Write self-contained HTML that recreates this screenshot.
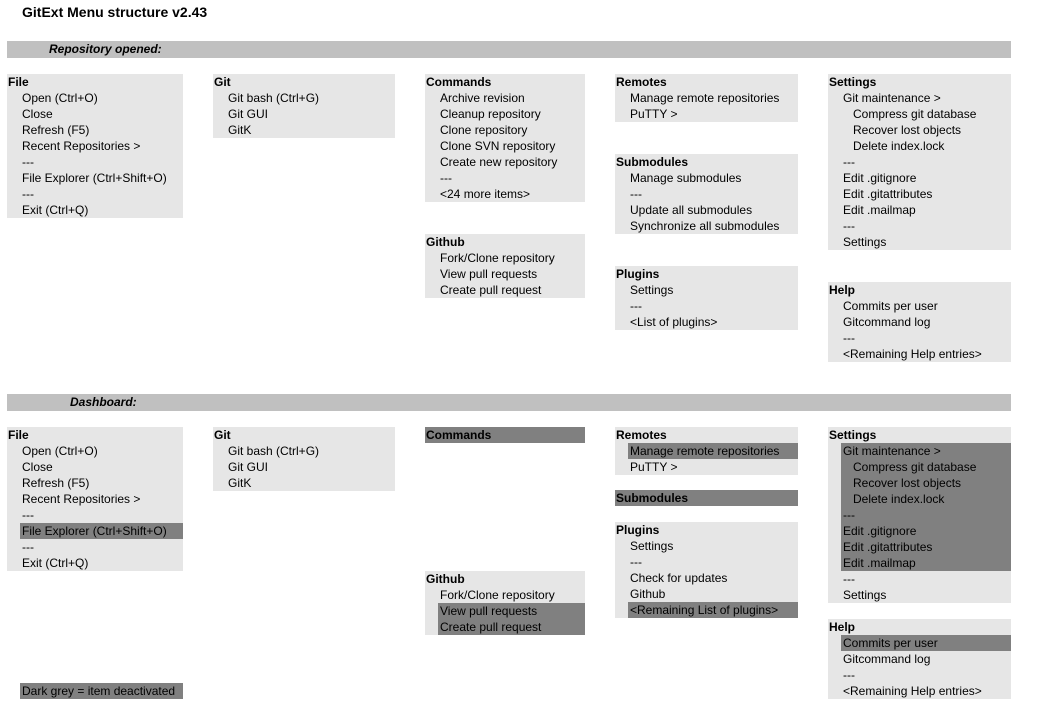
<!DOCTYPE html>
<html><head><meta charset="utf-8"><style>
body{margin:0;width:1043px;height:726px;background:#fff;position:relative;font-family:"Liberation Sans",Arial,sans-serif;font-size:12px;color:#000;overflow:hidden}
.t{position:absolute;left:22px;top:4px;font-weight:bold;font-size:14px}
.bar{position:absolute;left:7px;width:1004px;height:17px;background:#c0c0c0;font-weight:bold;font-style:italic;line-height:17px}
.box{position:absolute;background:#e6e6e6}
.r{height:16px;line-height:16px;white-space:nowrap;position:relative}
.h{font-weight:bold;padding-left:1px}
.i{padding-left:15px}
.s{padding-left:25px}
.d{background:#808080;margin-left:13px;padding-left:2px}
.ds{background:#808080;margin-left:13px;padding-left:12px}
.hd{background:#808080;font-weight:bold;padding-left:1px}
</style></head><body>
<div class="t">GitExt Menu structure v2.43</div>
<div class="bar" style="top:41px"><span style="margin-left:42px">Repository opened:</span></div>

<div class="box" style="left:7px;top:74px;width:176px">
<div class="r h">File</div><div class="r i">Open (Ctrl+O)</div><div class="r i">Close</div><div class="r i">Refresh (F5)</div><div class="r i">Recent Repositories &gt;</div><div class="r i">---</div><div class="r i">File Explorer (Ctrl+Shift+O)</div><div class="r i">---</div><div class="r i">Exit (Ctrl+Q)</div></div>
<div class="box" style="left:213px;top:74px;width:182px">
<div class="r h">Git</div><div class="r i">Git bash (Ctrl+G)</div><div class="r i">Git GUI</div><div class="r i">GitK</div></div>
<div class="box" style="left:425px;top:74px;width:160px">
<div class="r h">Commands</div><div class="r i">Archive revision</div><div class="r i">Cleanup repository</div><div class="r i">Clone repository</div><div class="r i">Clone SVN repository</div><div class="r i">Create new repository</div><div class="r i">---</div><div class="r i">&lt;24 more items&gt;</div></div>
<div class="box" style="left:425px;top:234px;width:160px">
<div class="r h">Github</div><div class="r i">Fork/Clone repository</div><div class="r i">View pull requests</div><div class="r i">Create pull request</div></div>
<div class="box" style="left:615px;top:74px;width:183px">
<div class="r h">Remotes</div><div class="r i">Manage remote repositories</div><div class="r i">PuTTY &gt;</div></div>
<div class="box" style="left:615px;top:154px;width:183px">
<div class="r h">Submodules</div><div class="r i">Manage submodules</div><div class="r i">---</div><div class="r i">Update all submodules</div><div class="r i">Synchronize all submodules</div></div>
<div class="box" style="left:615px;top:266px;width:183px">
<div class="r h">Plugins</div><div class="r i">Settings</div><div class="r i">---</div><div class="r i">&lt;List of plugins&gt;</div></div>
<div class="box" style="left:828px;top:74px;width:183px">
<div class="r h">Settings</div><div class="r i">Git maintenance &gt;</div><div class="r s">Compress git database</div><div class="r s">Recover lost objects</div><div class="r s">Delete index.lock</div><div class="r i">---</div><div class="r i">Edit .gitignore</div><div class="r i">Edit .gitattributes</div><div class="r i">Edit .mailmap</div><div class="r i">---</div><div class="r i">Settings</div></div>
<div class="box" style="left:828px;top:282px;width:183px">
<div class="r h">Help</div><div class="r i">Commits per user</div><div class="r i">Gitcommand log</div><div class="r i">---</div><div class="r i">&lt;Remaining Help entries&gt;</div></div>

<div class="bar" style="top:394px"><span style="margin-left:63px">Dashboard:</span></div>

<div class="box" style="left:7px;top:427px;width:176px">
<div class="r h">File</div><div class="r i">Open (Ctrl+O)</div><div class="r i">Close</div><div class="r i">Refresh (F5)</div><div class="r i">Recent Repositories &gt;</div><div class="r i">---</div><div class="r d">File Explorer (Ctrl+Shift+O)</div><div class="r i">---</div><div class="r i">Exit (Ctrl+Q)</div></div>
<div class="box" style="left:213px;top:427px;width:182px">
<div class="r h">Git</div><div class="r i">Git bash (Ctrl+G)</div><div class="r i">Git GUI</div><div class="r i">GitK</div></div>
<div class="box" style="left:425px;top:427px;width:160px">
<div class="r hd">Commands</div></div>
<div class="box" style="left:425px;top:571px;width:160px">
<div class="r h">Github</div><div class="r i">Fork/Clone repository</div><div class="r d">View pull requests</div><div class="r d">Create pull request</div></div>
<div class="box" style="left:615px;top:427px;width:183px">
<div class="r h">Remotes</div><div class="r d">Manage remote repositories</div><div class="r i">PuTTY &gt;</div></div>
<div class="box" style="left:615px;top:490px;width:183px">
<div class="r hd">Submodules</div></div>
<div class="box" style="left:615px;top:522px;width:183px">
<div class="r h">Plugins</div><div class="r i">Settings</div><div class="r i">---</div><div class="r i">Check for updates</div><div class="r i">Github</div><div class="r d">&lt;Remaining List of plugins&gt;</div></div>
<div class="box" style="left:828px;top:427px;width:183px">
<div class="r h">Settings</div><div class="r d">Git maintenance &gt;</div><div class="r ds">Compress git database</div><div class="r ds">Recover lost objects</div><div class="r ds">Delete index.lock</div><div class="r d">---</div><div class="r d">Edit .gitignore</div><div class="r d">Edit .gitattributes</div><div class="r d">Edit .mailmap</div><div class="r i">---</div><div class="r i">Settings</div></div>
<div class="box" style="left:828px;top:619px;width:183px">
<div class="r h">Help</div><div class="r d">Commits per user</div><div class="r i">Gitcommand log</div><div class="r i">---</div><div class="r i">&lt;Remaining Help entries&gt;</div></div>

<div class="box" style="left:20px;top:683px;width:163px;background:#808080">
<div class="r" style="padding-left:2px">Dark grey = item deactivated</div></div>
</body></html>
